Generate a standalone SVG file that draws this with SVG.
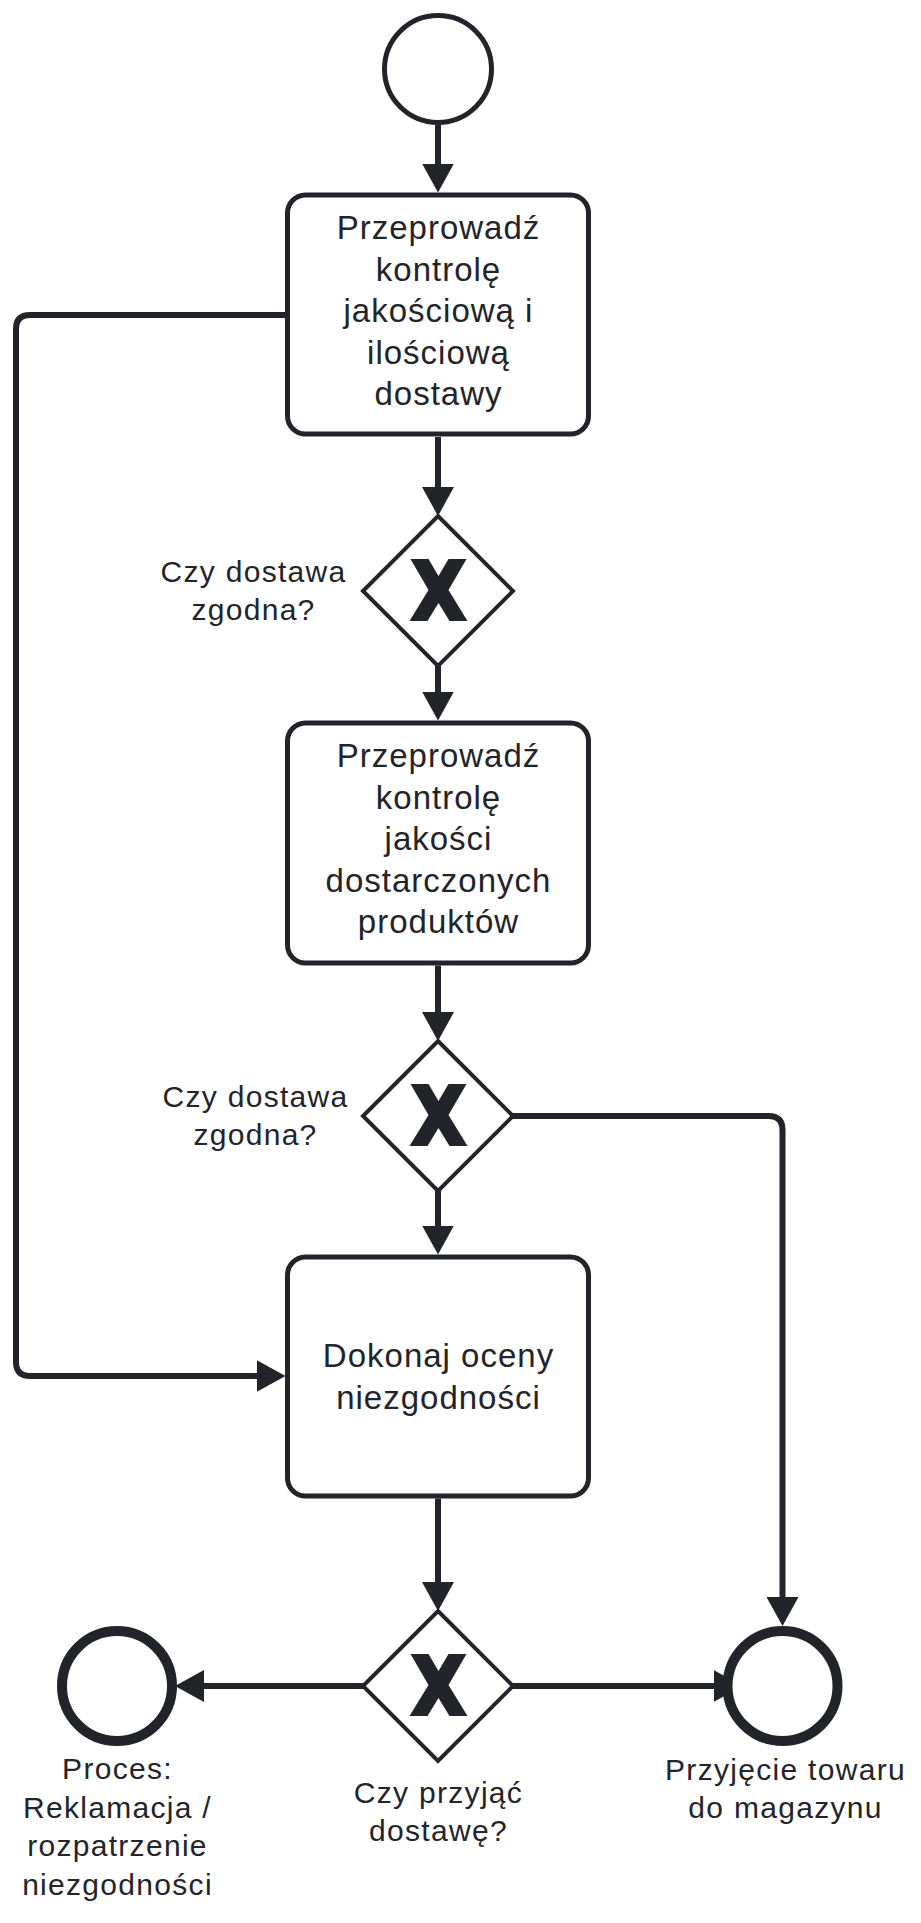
<svg xmlns="http://www.w3.org/2000/svg" width="921" height="1923" viewBox="0 0 921 1923">
<style>
.ev{fill:#ffffff;stroke:#22242a;}
.task{fill:#ffffff;stroke:#22242a;stroke-width:5;}
.gw{fill:#ffffff;stroke:#22242a;stroke-width:4;stroke-linejoin:miter;}
.xm{fill:#22242a;stroke:none;}
.conn{fill:none;stroke:#22242a;stroke-width:6;}
.t{font-family:"Liberation Sans",Arial,sans-serif;fill:#22242a;text-anchor:middle;}
.tb{font-size:33px;letter-spacing:1px;}
.tl{font-size:30px;letter-spacing:1.3px;}
</style>
<defs>
<marker id="arr" markerUnits="userSpaceOnUse" markerWidth="30" markerHeight="32" refX="19" refY="16" orient="auto" viewBox="0 0 30 32">
<path d="M0,0 L29,16 L0,32 Z" fill="#22242a"/>
</marker>
<path id="xmark" d="M-28,-31 L-10,-31 L0,-14 L10,-31 L28,-31 L10,0 L29,31 L11,31 L0,13 L-11,31 L-29,31 L-10,0 Z"/>
</defs>

<g id="connectors">
<path class="conn" d="M438,125 V182.5" marker-end="url(#arr)"/>
<path class="conn" d="M438,437 V506" marker-end="url(#arr)"/>
<path class="conn" d="M438,666 V710.5" marker-end="url(#arr)"/>
<path class="conn" d="M438,965.5 V1031" marker-end="url(#arr)"/>
<path class="conn" d="M438,1191 V1244.5" marker-end="url(#arr)"/>
<path class="conn" d="M438,1498.5 V1601" marker-end="url(#arr)"/>
<path class="conn" d="M363,1686 H185" marker-end="url(#arr)"/>
<path class="conn" d="M513,1686 H732.5" marker-end="url(#arr)"/>
<path class="conn" d="M513,1116 H768.5 Q782.5,1116 782.5,1130 V1616" marker-end="url(#arr)"/>
<path class="conn" d="M285.5,315 H30 Q16,315 16,329 V1362 Q16,1376 30,1376 H275.5" marker-end="url(#arr)"/>
</g>

<g id="start">
<circle class="ev" cx="438" cy="69" r="53.5" stroke-width="5"/>
</g>

<g id="task1">
<rect class="task" x="287.5" y="195" width="301" height="239" rx="18"/>
<text class="t tb" x="438.5" y="239">Przeprowadź</text>
<text class="t tb" x="438.5" y="280.5">kontrolę</text>
<text class="t tb" x="438.5" y="322">jakościową i</text>
<text class="t tb" x="438.5" y="363.5">ilościową</text>
<text class="t tb" x="438.5" y="405">dostawy</text>
</g>

<g id="gateway1">
<path class="gw" d="M438,516 L513,591 L438,666 L363,591 Z"/>
<use href="#xmark" class="xm" transform="translate(438.5,590)"/>
<text class="t tl" x="253.5" y="582">Czy dostawa</text>
<text class="t tl" x="253.5" y="619.5">zgodna?</text>
</g>

<g id="task2">
<rect class="task" x="287.5" y="723" width="301" height="240" rx="18"/>
<text class="t tb" x="438.5" y="767">Przeprowadź</text>
<text class="t tb" x="438.5" y="808.5">kontrolę</text>
<text class="t tb" x="438.5" y="850">jakości</text>
<text class="t tb" x="438.5" y="891.5">dostarczonych</text>
<text class="t tb" x="438.5" y="933">produktów</text>
</g>

<g id="gateway2">
<path class="gw" d="M438,1041 L513,1116 L438,1191 L363,1116 Z"/>
<use href="#xmark" class="xm" transform="translate(438.5,1115)"/>
<text class="t tl" x="255.5" y="1107">Czy dostawa</text>
<text class="t tl" x="255.5" y="1144.5">zgodna?</text>
</g>

<g id="task3">
<rect class="task" x="287.5" y="1257" width="301" height="239" rx="18"/>
<text class="t tb" x="438.5" y="1367">Dokonaj oceny</text>
<text class="t tb" x="438.5" y="1408.5">niezgodności</text>
</g>

<g id="gateway3">
<path class="gw" d="M438,1611 L513,1686 L438,1761 L363,1686 Z"/>
<use href="#xmark" class="xm" transform="translate(438.5,1685)"/>
<text class="t tl" x="438.5" y="1803">Czy przyjąć</text>
<text class="t tl" x="438.5" y="1841">dostawę?</text>
</g>

<g id="end-reklamacja">
<circle class="ev" cx="117" cy="1686" r="55" stroke-width="10"/>
<text class="t tl" x="117.5" y="1779">Proces:</text>
<text class="t tl" x="117.5" y="1817.5">Reklamacja /</text>
<text class="t tl" x="117.5" y="1856">rozpatrzenie</text>
<text class="t tl" x="117.5" y="1894.5">niezgodności</text>
</g>

<g id="end-przyjecie">
<circle class="ev" cx="782.5" cy="1686" r="55" stroke-width="10"/>
<text class="t tl" x="785.5" y="1780">Przyjęcie towaru</text>
<text class="t tl" x="785.5" y="1818">do magazynu</text>
</g>
</svg>
